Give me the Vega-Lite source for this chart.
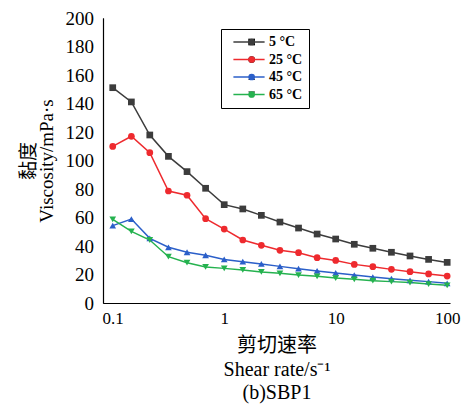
{
  "$schema": "https://vega.github.io/schema/vega-lite/v6.json",
  "width": 347,
  "height": 285,
  "autosize": {"type": "none"},
  "padding": {"left": 103, "top": 18, "right": 14, "bottom": 107},
  "background": "white",
  "config": {
    "view": {"stroke": null},
    "font": "Liberation Serif"
  },
  "data": {
    "values": [
      {"rate": 0.1, "T": "5 °C", "v": 151.1},
      {"rate": 0.147, "T": "5 °C", "v": 141.1},
      {"rate": 0.215, "T": "5 °C", "v": 117.9},
      {"rate": 0.316, "T": "5 °C", "v": 102.9},
      {"rate": 0.464, "T": "5 °C", "v": 92.2},
      {"rate": 0.681, "T": "5 °C", "v": 80.5},
      {"rate": 1.0, "T": "5 °C", "v": 69.0},
      {"rate": 1.468, "T": "5 °C", "v": 66.0},
      {"rate": 2.154, "T": "5 °C", "v": 61.5},
      {"rate": 3.162, "T": "5 °C", "v": 56.8},
      {"rate": 4.642, "T": "5 °C", "v": 52.6},
      {"rate": 6.813, "T": "5 °C", "v": 48.4},
      {"rate": 10.0, "T": "5 °C", "v": 44.9},
      {"rate": 14.68, "T": "5 °C", "v": 41.2},
      {"rate": 21.54, "T": "5 °C", "v": 38.4},
      {"rate": 31.62, "T": "5 °C", "v": 35.6},
      {"rate": 46.42, "T": "5 °C", "v": 33.0},
      {"rate": 68.13, "T": "5 °C", "v": 30.6},
      {"rate": 100.0, "T": "5 °C", "v": 28.5},
      {"rate": 0.1, "T": "25 °C", "v": 109.9},
      {"rate": 0.147, "T": "25 °C", "v": 117.0},
      {"rate": 0.215, "T": "25 °C", "v": 105.5},
      {"rate": 0.316, "T": "25 °C", "v": 78.6},
      {"rate": 0.464, "T": "25 °C", "v": 75.6},
      {"rate": 0.681, "T": "25 °C", "v": 59.2},
      {"rate": 1.0, "T": "25 °C", "v": 51.9},
      {"rate": 1.468, "T": "25 °C", "v": 44.2},
      {"rate": 2.154, "T": "25 °C", "v": 40.5},
      {"rate": 3.162, "T": "25 °C", "v": 37.0},
      {"rate": 4.642, "T": "25 °C", "v": 35.3},
      {"rate": 6.813, "T": "25 °C", "v": 31.8},
      {"rate": 10.0, "T": "25 °C", "v": 29.9},
      {"rate": 14.68, "T": "25 °C", "v": 27.1},
      {"rate": 21.54, "T": "25 °C", "v": 25.5},
      {"rate": 31.62, "T": "25 °C", "v": 23.6},
      {"rate": 46.42, "T": "25 °C", "v": 22.0},
      {"rate": 68.13, "T": "25 °C", "v": 20.4},
      {"rate": 100.0, "T": "25 °C", "v": 18.9},
      {"rate": 0.1, "T": "45 °C", "v": 54.3},
      {"rate": 0.147, "T": "45 °C", "v": 58.9},
      {"rate": 0.215, "T": "45 °C", "v": 45.4},
      {"rate": 0.316, "T": "45 °C", "v": 39.1},
      {"rate": 0.464, "T": "45 °C", "v": 35.6},
      {"rate": 0.681, "T": "45 °C", "v": 33.5},
      {"rate": 1.0, "T": "45 °C", "v": 30.6},
      {"rate": 1.468, "T": "45 °C", "v": 29.0},
      {"rate": 2.154, "T": "45 °C", "v": 27.4},
      {"rate": 3.162, "T": "45 °C", "v": 25.7},
      {"rate": 4.642, "T": "45 °C", "v": 24.1},
      {"rate": 6.813, "T": "45 °C", "v": 22.5},
      {"rate": 10.0, "T": "45 °C", "v": 21.1},
      {"rate": 14.68, "T": "45 °C", "v": 19.6},
      {"rate": 21.54, "T": "45 °C", "v": 18.2},
      {"rate": 31.62, "T": "45 °C", "v": 17.1},
      {"rate": 46.42, "T": "45 °C", "v": 15.9},
      {"rate": 68.13, "T": "45 °C", "v": 15.0},
      {"rate": 100.0, "T": "45 °C", "v": 13.8},
      {"rate": 0.1, "T": "65 °C", "v": 58.7},
      {"rate": 0.147, "T": "65 °C", "v": 50.3},
      {"rate": 0.215, "T": "65 °C", "v": 44.2},
      {"rate": 0.316, "T": "65 °C", "v": 32.5},
      {"rate": 0.464, "T": "65 °C", "v": 28.3},
      {"rate": 0.681, "T": "65 °C", "v": 25.3},
      {"rate": 1.0, "T": "65 °C", "v": 24.3},
      {"rate": 1.468, "T": "65 °C", "v": 23.2},
      {"rate": 2.154, "T": "65 °C", "v": 21.8},
      {"rate": 3.162, "T": "65 °C", "v": 20.8},
      {"rate": 4.642, "T": "65 °C", "v": 19.6},
      {"rate": 6.813, "T": "65 °C", "v": 18.7},
      {"rate": 10.0, "T": "65 °C", "v": 17.5},
      {"rate": 14.68, "T": "65 °C", "v": 16.6},
      {"rate": 21.54, "T": "65 °C", "v": 15.7},
      {"rate": 31.62, "T": "65 °C", "v": 15.0},
      {"rate": 46.42, "T": "65 °C", "v": 14.3},
      {"rate": 68.13, "T": "65 °C", "v": 13.3},
      {"rate": 100.0, "T": "65 °C", "v": 12.4}
    ]
  },
  "encoding": {
    "x": {
      "field": "rate",
      "type": "quantitative",
      "scale": {"type": "log", "domain": [0.0818, 106], "nice": false},
      "axis": {
        "values": [0.1, 0.2, 0.3, 0.4, 0.5, 0.6, 0.7, 0.8, 0.9, 1, 2, 3, 4, 5, 6, 7, 8, 9, 10, 20, 30, 40, 50, 60, 70, 80, 90, 100],
        "labelExpr": "indexof([0.1,1,10,100], datum.value) >= 0 ? datum.label : ''",
        "format": "~g",
        "grid": false,
        "domainColor": "#000",
        "domainWidth": 1.2,
        "tickColor": "#000",
        "tickWidth": 1,
        "tickSize": 0.5,
        "encode": {
          "ticks": {
            "update": {
              "y2": {"signal": "indexof([0.1,1,10,100], datum.value) >= 0 ? -5 : -2.5"}
            }
          }
        },
        "labelFont": "Liberation Serif",
        "labelFontSize": 17,
        "labelColor": "#000",
        "labelPadding": 7,
        "labelFlush": false,
        "labelOverlap": false,
        "title": ["剪切速率", "Shear  rate/s⁻¹", "(b)SBP1"],
        "titleFont": "Liberation Serif, Noto Sans CJK SC",
        "titleFontSize": 20,
        "titleFontWeight": "normal",
        "titleColor": "#000",
        "titleLineHeight": 23.5,
        "titlePadding": 9
      }
    },
    "y": {
      "field": "v",
      "type": "quantitative",
      "scale": {"domain": [0, 200], "nice": false},
      "axis": {
        "values": [0, 10, 20, 30, 40, 50, 60, 70, 80, 90, 100, 110, 120, 130, 140, 150, 160, 170, 180, 190, 200],
        "labelExpr": "datum.value % 20 == 0 ? datum.label : ''",
        "grid": false,
        "domainColor": "#000",
        "domainWidth": 1.2,
        "tickColor": "#000",
        "tickWidth": 1,
        "tickSize": 0.5,
        "encode": {
          "ticks": {
            "update": {
              "x2": {"signal": "datum.value % 20 == 0 ? 5 : 2.5"}
            }
          }
        },
        "labelFont": "Liberation Serif",
        "labelFontSize": 19,
        "labelColor": "#000",
        "labelPadding": 9,
        "labelFlush": false,
        "labelOverlap": false,
        "title": ["黏度", "Viscosity/mPa·s"],
        "titleFont": "Liberation Serif, Noto Sans CJK SC",
        "titleFontSize": 19,
        "titleFontWeight": "normal",
        "titleColor": "#000",
        "titleLineHeight": 18,
        "titlePadding": 9
      }
    }
  },
  "layer": [
    {
      "mark": {"type": "line", "strokeWidth": 1.5},
      "encoding": {
        "color": {
          "field": "T",
          "type": "nominal",
          "scale": {"domain": ["5 °C", "25 °C", "45 °C", "65 °C"], "range": ["#3c3c3c", "#ee2a2e", "#2b5fc9", "#25b24f"]},
          "legend": {
            "title": null,
            "orient": "none",
            "legendX": 118,
            "legendY": 11,
            "strokeColor": "#000",
            "padding": 6,
            "symbolType": "M-2.6,0H2.6",
            "symbolSize": 144,
            "symbolStrokeWidth": 1.5,
            "symbolOffset": 15,
            "labelOffset": 13,
            "labelFont": "Liberation Serif",
            "labelFontSize": 14,
            "labelFontWeight": "bold",
            "labelColor": "#000",
            "rowPadding": 3.5
          }
        }
      }
    },
    {
      "mark": {"type": "point", "filled": true, "opacity": 1, "size": 45},
      "encoding": {
        "color": {
          "field": "T",
          "type": "nominal",
          "scale": {"domain": ["5 °C", "25 °C", "45 °C", "65 °C"], "range": ["#3c3c3c", "#ee2a2e", "#2b5fc9", "#25b24f"]},
          "legend": {
            "title": null,
            "orient": "none",
            "legendX": 118,
            "legendY": 11,
            "padding": 6,
            "symbolSize": 45,
            "symbolOpacity": 1,
            "symbolStrokeWidth": 0,
            "symbolOffset": 17.65,
            "labelOffset": 13,
            "labelExpr": "''",
            "labelFont": "Liberation Serif",
            "labelFontSize": 14,
            "labelFontWeight": "bold",
            "labelOpacity": 0,
            "rowPadding": 3.5
          }
        },
        "shape": {
          "field": "T",
          "type": "nominal",
          "scale": {"domain": ["5 °C", "25 °C", "45 °C", "65 °C"], "range": ["square", "circle", "triangle-up", "triangle-down"]},
          "legend": {
            "title": null,
            "orient": "none",
            "legendX": 118,
            "legendY": 11,
            "padding": 6,
            "symbolSize": 45,
            "symbolOpacity": 1,
            "symbolStrokeWidth": 0,
            "symbolOffset": 17.65,
            "labelOffset": 13,
            "labelExpr": "''",
            "labelFont": "Liberation Serif",
            "labelFontSize": 14,
            "labelFontWeight": "bold",
            "labelOpacity": 0,
            "rowPadding": 3.5
          }
        }
      }
    }
  ],
  "resolve": {"scale": {"color": "independent"}, "legend": {"color": "independent"}}
}
